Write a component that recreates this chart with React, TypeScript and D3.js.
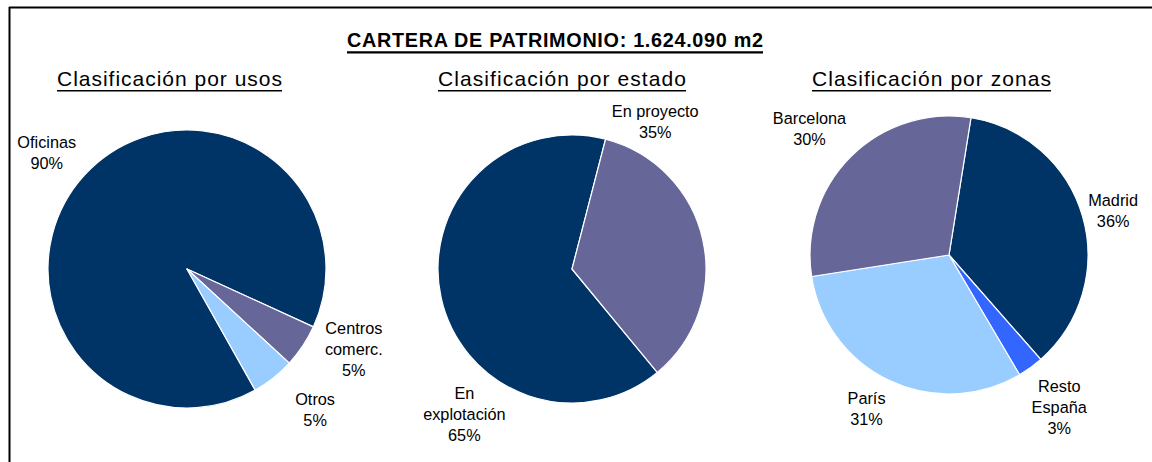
import React from 'react';
import * as d3 from 'd3';

// datos (porcentajes)
const usosCategories = ['Oficinas', 'Centros\ncomerc.', 'Otros'];
const usosValues = [90, 5, 5];
const estadoCategories = ['En\nexplotación', 'En proyecto'];
const estadoValues = [65, 35];
const zonasCategories = ['Madrid', 'Resto\nEspaña', 'París', 'Barcelona'];
const zonasValues = [36, 3, 31, 30];

const titleText = 'CARTERA DE PATRIMONIO: 1.624.090 m2';
const subtitles = ['Clasificación por usos', 'Clasificación por estado', 'Clasificación por zonas'];

const NAVY = '#003366';
const LILAC = '#666699';
const SKY = '#99CCFF';
const BLUE = '#3366FF';

const W = 1152;
const H = 462;
const FONT = '"Liberation Sans", Arial, sans-serif';

const deg = (d: number) => (d * Math.PI) / 180;

// layout of each pie: center, radius, start angle, colours, label tweaks
const pies = [
  {
    categories: usosCategories, values: usosValues,
    cx: 187, cy: 269, r: 139, start: 150.6,
    colors: [NAVY, LILAC, SKY],
    labelShift: [-3, -8, -4], labelDist: [182, 185, 190],
    sub: { cx: 169.5, len: 225 },
  },
  {
    categories: estadoCategories, values: estadoValues,
    cx: 572, cy: 269, r: 134, start: 140.5,
    colors: [NAVY, LILAC],
    labelShift: [-41, -48], labelDist: [181, 169],
    sub: { cx: 562, len: 248 },
  },
  {
    categories: zonasCategories, values: zonasValues,
    cx: 949, cy: 255, r: 139, start: 9.1,
    colors: [NAVY, BLUE, SKY, LILAC],
    labelShift: [1, 0, 3, -3], labelDist: [170, 188, 174, 188],
    sub: { cx: 931.5, len: 239 },
  },
];

function Pie({ p }: { p: typeof pies[number] }) {
  const total = d3.sum(p.values);
  const pie = d3.pie<number>()
    .sort(null)
    .value(d => d)
    .startAngle(deg(p.start))
    .endAngle(deg(p.start) + Math.PI * 2);
  const arcs = pie(p.values);
  const arc = d3.arc<d3.PieArcDatum<number>>().innerRadius(0).outerRadius(p.r);
  const lineH = 21;

  return (
    <g transform={`translate(${p.cx},${p.cy})`}>
      {arcs.map((a, i) => (
        <path key={i} d={arc(a) || ''} fill={p.colors[i]} stroke="#fff" strokeWidth={1.2} strokeLinejoin="round" />
      ))}
      {arcs.map((a, i) => {
        const mid = (a.startAngle + a.endAngle) / 2 + deg(p.labelShift[i]);
        const [x, y] = d3.pointRadial(mid, p.labelDist[i]);
        const lines = [...p.categories[i].split('\n'), `${Math.round((p.values[i] / total) * 100)}%`];
        return (
          <text key={'l' + i} x={x} textAnchor="middle" fontFamily={FONT} fontSize={16.3} fill="#000">
            {lines.map((t, j) => (
              <tspan key={j} x={x} y={y + (j - (lines.length - 1) / 2) * lineH + 5.8}>{t}</tspan>
            ))}
          </text>
        );
      })}
    </g>
  );
}

export default function App() {
  const subBase = 85.7;
  return (
    <div style={{ position: 'absolute', left: 0, top: 0, width: W, height: H, background: '#fff' }}>
      <svg width={W} height={H} style={{ display: 'block' }}>
        <rect x={0} y={0} width={W} height={H} fill="#fff" />
        {/* marco */}
        <line x1={9} y1={7.5} x2={W} y2={7.5} stroke="#000" strokeWidth={2} />
        <line x1={9.5} y1={7} x2={9.5} y2={H} stroke="#000" strokeWidth={2} />

        <text x={555} y={46.7} textAnchor="middle" fontFamily={FONT} fontWeight="bold" fontSize={19.8}
          textLength={416} lengthAdjust="spacing" fill="#000">{titleText}</text>
        <line x1={555 - 208} y1={52.3} x2={555 + 208} y2={52.3} stroke="#000" strokeWidth={2.2} />

        {pies.map((p, i) => (
          <g key={'s' + i}>
            <text x={p.sub.cx} y={subBase} textAnchor="middle" fontFamily={FONT} fontSize={21}
              textLength={p.sub.len} lengthAdjust="spacing" fill="#000">{subtitles[i]}</text>
            <line x1={p.sub.cx - p.sub.len / 2} y1={90.7} x2={p.sub.cx + p.sub.len / 2} y2={90.7} stroke="#000" strokeWidth={1.5} />
          </g>
        ))}

        {pies.map((p, i) => <Pie key={i} p={p} />)}
      </svg>
    </div>
  );
}
